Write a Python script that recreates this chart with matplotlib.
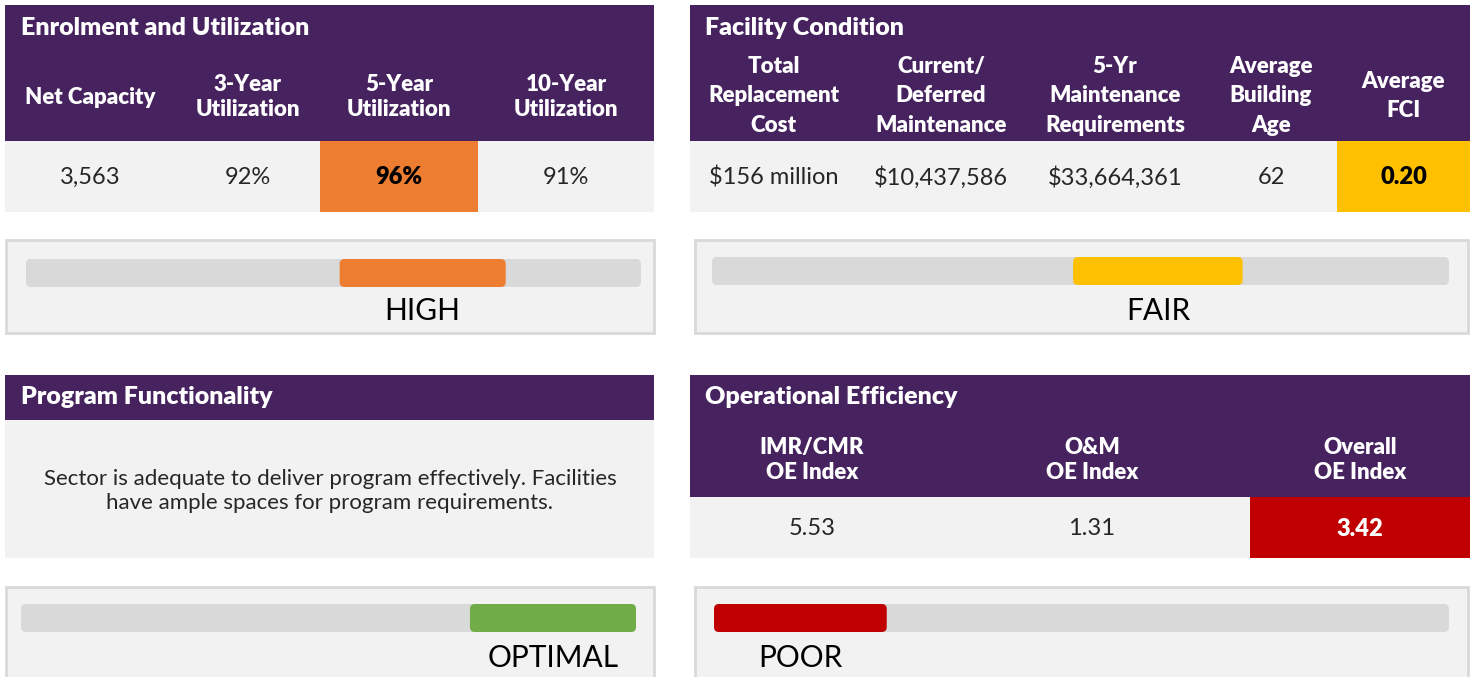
import matplotlib
matplotlib.use("Agg")

import matplotlib.pyplot as plt
from matplotlib.patches import Rectangle, FancyBboxPatch

plt.rcParams["font.family"] = ["Lato", "DejaVu Sans"]

PURPLE = "#46235f"
LIGHT = "#f2f2f2"
TRACK = "#d9d9d9"
INK = "#262626"

# --- data -------------------------------------------------------------
enrol_title = "Enrolment and Utilization"
enrol_headers = ["Net Capacity", "3-Year\nUtilization", "5-Year\nUtilization", "10-Year\nUtilization"]
enrol_values = ["3,563", "92%", "96%", "91%"]
enrol_flag = 2

facility_title = "Facility Condition"
facility_headers = ["Total\nReplacement\nCost", "Current/\nDeferred\nMaintenance",
                    "5-Yr\nMaintenance\nRequirements", "Average\nBuilding\nAge", "Average\nFCI"]
facility_values = ["$156 million", "$10,437,586", "$33,664,361", "62", "0.20"]
facility_flag = 4

program_title = "Program Functionality"
program_text = ("Sector is adequate to deliver program effectively. Facilities\n"
                "have ample spaces for program requirements.")

oe_title = "Operational Efficiency"
oe_headers = ["IMR/CMR\nOE Index", "O&M\nOE Index", "Overall\nOE Index"]
oe_values = ["5.53", "1.31", "3.42"]
oe_flag = 2

gauge_labels = ["HIGH", "FAIR", "OPTIMAL", "POOR"]
gauge_colors = ["#ed7d31", "#ffc000", "#70ad47", "#c00000"]
gauge_start = [0.51, 0.49, 0.73, 0.0]
gauge_end = [0.78, 0.72, 1.0, 0.235]
flag_text_colors = ["black", "black", "black", "white"]


fig = plt.figure(figsize=(14.78, 6.77), dpi=100)
ax = fig.add_axes([0, 0, 1, 1])
ax.set_xlim(0, 1478)
ax.set_ylim(677, 0)
ax.axis("off")


def rect(x0, y0, x1, y1, color, **kw):
    ax.add_patch(Rectangle((x0, y0), x1 - x0, y1 - y0, facecolor=color, linewidth=0, **kw))


def table(edges, y_head, y_row, y_bot, title, title_x, title_y, headers, values,
          flag, flag_color, flag_text, head_y, head_ls):
    rect(edges[0], y_head, edges[-1], y_row, PURPLE)
    rect(edges[0], y_row, edges[-1], y_bot, LIGHT)
    rect(edges[flag], y_row, edges[flag + 1], y_bot, flag_color)
    ax.text(title_x, title_y, title, color="white", fontsize=18, fontweight="heavy",
            ha="left", va="center")
    vy = (y_row + y_bot) / 2 + 1
    for i, (h, v) in enumerate(zip(headers, values)):
        cx = (edges[i] + edges[i + 1]) / 2
        ax.text(cx, head_y, h, color="white", fontsize=16, fontweight="heavy",
                ha="center", va="center", multialignment="center", linespacing=head_ls)
        is_flag = i == flag
        ax.text(cx, vy, v, color=flag_text if is_flag else INK, fontsize=17,
                fontweight="heavy" if is_flag else "normal", ha="center", va="center")


def gauge(box, track, k, label_y):
    bx0, by0, bx1, by1 = box
    ax.add_patch(Rectangle((bx0, by0), bx1 - bx0, by1 - by0, facecolor=LIGHT,
                           edgecolor=TRACK, linewidth=2))
    tx0, ty0, tx1, ty1 = track
    ax.add_patch(FancyBboxPatch((tx0, ty0), tx1 - tx0, ty1 - ty0,
                                boxstyle="round,pad=0,rounding_size=5",
                                facecolor=TRACK, linewidth=0))
    w = tx1 - tx0
    fx0 = tx0 + gauge_start[k] * w
    fx1 = tx0 + gauge_end[k] * w
    ax.add_patch(FancyBboxPatch((fx0, ty0), fx1 - fx0, ty1 - ty0,
                                boxstyle="round,pad=0,rounding_size=5",
                                facecolor=gauge_colors[k], linewidth=0))
    ax.text((fx0 + fx1) / 2, label_y, gauge_labels[k], fontsize=21.5, color="black",
            ha="center", va="center")


table([5, 175, 320, 478, 654], 5, 141, 212, enrol_title, 21, 28, enrol_headers,
      enrol_values, enrol_flag, gauge_colors[0], flag_text_colors[0], 97, 1.22)
table([690, 857, 1025, 1205, 1337, 1470], 5, 141, 212, facility_title, 705, 28,
      facility_headers, facility_values, facility_flag, gauge_colors[1],
      flag_text_colors[1], 96, 1.52)

# program functionality panel
rect(5, 375, 654, 420, PURPLE)
rect(5, 420, 654, 558, LIGHT)
ax.text(21, 397, program_title, color="white", fontsize=18, fontweight="heavy",
        ha="left", va="center")
ax.text(330, 491, program_text, fontsize=16, color=INK, ha="center",
        va="center", multialignment="center", linespacing=1.2)

table([690, 934, 1250, 1470], 375, 497, 558, oe_title, 705, 397, oe_headers,
      oe_values, oe_flag, gauge_colors[3], flag_text_colors[3], 460, 1.22)

gauge((6, 240, 654, 333), (26, 259, 641, 287), 0, 311)
gauge((695, 240, 1468, 333), (712, 257, 1449, 285), 1, 311)
gauge((6, 587, 654, 690), (21, 604, 636, 632), 2, 658)
gauge((695, 587, 1468, 690), (714, 604, 1449, 632), 3, 658)

fig.savefig("out.png", dpi=100, facecolor="white")
